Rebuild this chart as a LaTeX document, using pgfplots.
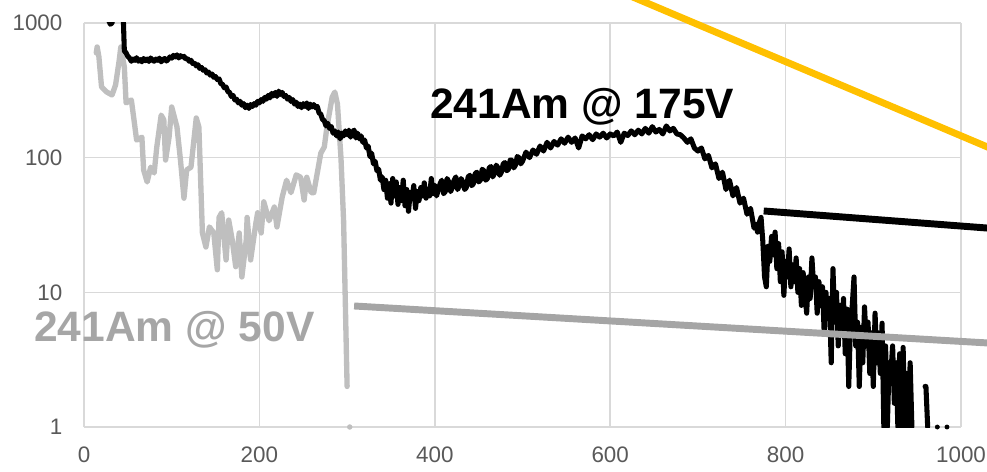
\documentclass[border=0pt]{standalone}
\usepackage{fontspec}
\setmainfont{Liberation Sans}
\usepackage{pgfplots}
\pgfplotsset{compat=1.18}
\definecolor{gridc}{HTML}{D9D9D9}
\definecolor{tickc}{HTML}{595959}
\definecolor{grayd}{HTML}{BFBFBF}
\definecolor{grayf}{HTML}{A5A5A5}
\definecolor{grayl}{HTML}{A6A6A6}
\definecolor{yel}{HTML}{FFC000}
\begin{document}
\begin{tikzpicture}
\begin{axis}[name=main,
  scale only axis, width=657.75pt, height=303pt,
  xmin=0, xmax=1000, ymin=1, ymax=1000, ymode=log,
  at={(0,0)}, anchor=south west,
  axis lines=left, axis line style={-, gridc, line width=1.1pt},
  grid=major, grid style={gridc, line width=1.1pt},
  xtick={0,200,400,600,800,1000}, xticklabels={0,200,400,600,800,1000},
  ytick={1,10,100,1000}, yticklabels={1,10,100,1000},
  major tick length=0pt, minor tick length=0pt,
  tick label style={font=\fontsize{16.8}{20}\selectfont, text=tickc},
  xticklabel style={anchor=north, inner sep=0pt, yshift=-15pt},
  yticklabel style={anchor=east, inner sep=0pt, xshift=-16pt},
  unbounded coords=jump,
]
% 241Am @ 50V data
\addplot[grayd, line width=4pt, line join=round, line cap=round] coordinates {
(14,600) (15,664) (17,560) (20,335) (26,307) (32,292) (36,347) (40,520) (42,664) (46,471)
(48,255) (54,268) (57,191) (60,135) (66,142) (68,81) (72,66) (76,85) (80,77) (83,120)
(88,207) (91,191) (93,96) (97,142) (100,238) (106,169) (110,96) (114,50) (117,81) (122,85)
(128,197) (131,169) (135,27.6) (139,21.7) (143,30.6) (148,27.6) (152,14.7) (154,36) (157,39)
(162,17.4) (165,34.4) (169,24.5) (173,15.5) (177,27.6) (180,13) (185,24.5) (186,36) (190,17.4)
(196,32.7) (198,39) (202,27.6) (205,47) (211,34) (217,43) (220,30.6) (226,51) (231,68) (236,55)
(242,74.5) (247,71.5) (251,48.5) (254,71.5) (259,55) (262,55) (266,77) (270,108) (274,120)
(277,169) (283,282) (286,307) (289,250) (293,100) (296,34) (300,2)
};
% 241Am @ 175V data
\addplot[black, line width=3.8pt, line join=round, line cap=round] coordinates {
(26,1600) (28,1050) (30,980) (32,1000) (34,1250) (36,1600) (40,1800) (44,1600) (46,620)
(48,600) (50,565) (52,548) (54,520) (56,540) (58,528) (60,552) (62,520) (64,535) (66,515)
(68,545) (70,525) (72,540) (74,518) (76,550) (78,530) (80,520) (82,540) (84,528) (86,548)
(88,515) (90,535) (92,545) (94,522) (96,538) (98,560) (100,548) (102,575) (104,560) (106,580)
(108,550) (110,572) (112,558) (114,565) (116,540) (118,545) (120,520) (122,528) (124,500) (126,505)
(128,480) (130,490) (132,460) (134,468) (136,445) (138,450) (140,425) (142,432) (144,410) (146,418)
(148,395) (150,400) (152,380) (154,385) (156,355) (158,350) (160,330) (162,335) (164,310) (166,305)
(168,285) (170,290) (172,268) (174,272) (176,255) (178,262) (180,245) (182,252) (184,235) (186,245)
(188,232) (190,248) (192,240) (194,252) (196,245) (198,262) (200,255) (202,270) (204,262) (206,280)
(208,272) (210,290) (212,278) (214,300) (216,288) (218,305) (220,285) (222,312) (224,295) (226,305)
(228,285) (230,290) (232,272) (234,280) (236,262) (238,270) (240,250) (242,258) (244,240) (246,250)
(248,235) (250,252) (252,240) (254,255) (256,232) (258,250) (260,238) (262,248) (264,235) (266,240)
(268,215) (270,210) (272,192) (274,188) (276,172) (278,180) (280,165) (282,170) (284,152) (286,158)
(288,145) (290,155) (292,138) (294,152) (296,145) (298,158) (300,148) (302,160) (304,142) (306,155)
(308,160) (310,140) (312,152) (314,138) (316,145) (318,130) (320,135) (322,118) (324,122) (326,102)
(328,108) (330,90) (332,94) (334,80) (336,82) (338,68) (340,72) (342,58) (344,68) (346,50)
(348,64) (350,46) (352,70) (354,52) (356,66) (358,45) (360,60) (362,48) (364,68) (366,44)
(368,58) (370,40) (372,55) (374,50) (376,62) (378,42) (380,56) (382,48) (384,60) (386,52)
(388,65) (390,50) (392,58) (394,52) (396,70) (398,54) (400,62) (402,52) (404,58) (406,64)
(408,68) (410,54) (412,56) (414,70) (416,66) (418,56) (420,60) (422,68) (424,72) (426,58)
(428,62) (430,70) (432,66) (434,58) (436,60) (438,72) (440,74) (442,62) (444,64) (446,76)
(448,78) (450,66) (452,68) (454,82) (456,80) (458,68) (460,70) (462,84) (464,86) (466,72)
(468,76) (470,88) (472,84) (474,74) (476,78) (478,90) (480,92) (482,80) (484,82) (486,96)
(488,96) (490,84) (492,88) (494,102) (496,100) (498,90) (500,94) (504,110) (508,100) (512,114)
(516,106) (520,122) (524,112) (528,130) (532,118) (536,132) (540,124) (544,138) (548,128) (552,142)
(556,130) (560,140) (564,118) (568,145) (572,138) (576,148) (580,136) (584,150) (588,142) (592,152)
(596,140) (600,150) (604,145) (608,155) (612,130) (616,152) (620,146) (624,158) (628,148) (632,160)
(636,150) (640,165) (644,152) (648,170) (652,155) (656,162) (660,150) (664,172) (668,158) (672,165)
(676,150) (680,148) (684,140) (688,130) (692,138) (696,118) (700,112) (704,118) (708,98) (712,104)
(716,84) (720,90) (724,70) (728,78) (732,58) (736,68) (740,52) (744,60) (748,46) (752,50)
(756,38) (760,42) (764,30) (766,32) (768,28) (770,33) (772,36)
(774,24) (776,13) (778,11) (780,22) (782,17) (784,26) (786,19) (788,28) (790,15) (792,23)
(794,12) (796,20) (798,9.5) (800,17) (802,13) (804,21) (806,11) (808,16) (810,12) (812,18)
(814,10) (816,15) (818,8) (820,14) (822,10) (824,7) (826,13) (828,9) (830,18) (832,11)
(834,13) (836,7) (838,12) (840,8) (842,11) (844,5) (846,10) (848,6.5) (850,9) (852,3)
(854,15) (856,6) (858,10) (860,4) (862,8) (864,5) (866,9) (868,3.5) (870,7.5) (872,2)
(874,6) (876,8) (878,13) (880,4) (882,6) (884,2) (886,5.5) (888,3) (890,7.8) (892,4)
(894,6) (896,2.5) (898,5) (900,2) (902,7) (904,3) (906,5) (908,2.5) (910,5.9) (912,1)
(914,4) (916,1) (918,3) (920,2.5) (922,4) (924,1.5) (926,3) (928,1) (930,3.5) (932,1)
(934,3.9) (936,1) (938,2.5) (940,1) (942,3) (944,1) (946,nan) (959,2) (960,2) (962,1)
};
\end{axis}
\begin{axis}[
  scale only axis, width=657.75pt, height=303pt,
  xmin=0, xmax=1000, ymin=1, ymax=1000, ymode=log,
  at={(0,0)}, anchor=south west,
  axis lines=none, clip=false]
\addplot[yel, line width=5.2pt] coordinates {(560,2366) (1060,99.3)};
\addplot[black, line width=5.2pt] coordinates {(775,40.2) (1060,29.0)};
\addplot[grayf, line width=5.2pt] coordinates {(308,7.92) (1060,4.10)};
\addplot[only marks, mark=*, mark size=1.6pt, black] coordinates {(973,1) (984,1)};
\addplot[only marks, mark=*, mark size=1.8pt, grayd] coordinates {(303,1)};
\node[anchor=base, inner sep=0pt, font=\fontsize{31.9}{38}\selectfont\bfseries] at (axis cs:568,197) {241Am @ 175V};
\node[anchor=base west, inner sep=0pt, text=grayl, font=\fontsize{31.9}{38}\selectfont\bfseries] at (axis cs:-57,4.29) {241Am @ 50V};
\end{axis}
\pgfresetboundingbox
\path[use as bounding box] ([xshift=-63pt,yshift=-33pt]main.south west) rectangle ([xshift=677.25pt,yshift=320.25pt]main.south west);
\end{tikzpicture}
\end{document}
